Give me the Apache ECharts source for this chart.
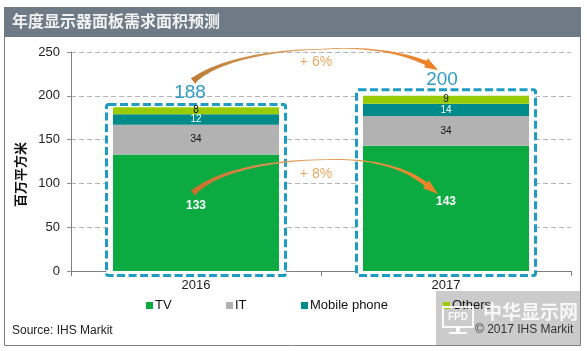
<!DOCTYPE html>
<html>
<head>
<meta charset="utf-8">
<style>html,body{margin:0;padding:0;background:#fff}#c{width:587px;height:351px}</style>
<script src="https://cdn.jsdelivr.net/npm/echarts@6/dist/echarts.min.js"></script>
</head>
<body>
<div id="c"></div>
<script>
const years = ['2016', '2017'];
const tv = [133, 143];
const it = [34, 34];
const mobile = [12, 14];
const others = [8, 9];
const totals = [188, 200];
const boxTops = [190, 207];
const totalLabelPos = [[-0.024, 203], [0.984, 218]];
const growthLabels = ['+ 6%', '+ 8%'];
const growthLabelPos = [[0.48, 238.6], [0.48, 110.7]];
// arrow centre lines: tail, controls, peak, controls, neck, tip as [category position, value]
const arrowUpper = [[-0.012, 217], [0.076, 238.6], [0.276, 252], [0.496, 253], [0.676, 257], [0.816, 250], [0.92, 237.5], [0.968, 229.5]];
const arrowLower = [[-0.012, 89], [0.076, 113], [0.276, 125.6], [0.496, 127], [0.676, 129], [0.816, 122], [0.92, 99], [0.968, 88]];
const arrows = [arrowUpper, arrowLower];
const yTitle = '百万平方米';
const chartTitle = '年度显示器面板需求面积预测';
const sourceText = 'Source: IHS Markit';
const copyrightText = '© 2017 IHS Markit';

const CN = '"Noto Sans CJK SC", sans-serif';
const LAT = '"Liberation Sans", Arial, sans-serif';

function cubic(a, b, c, d, t) {
  const u = 1 - t;
  return u*u*u*a + 3*u*u*t*b + 3*u*t*t*c + t*t*t*d;
}
function renderArrow(params, api) {
  const knots = arrows[api.value(0)];
  const x0 = api.coord([0, 0])[0], x1 = api.coord([1, 0])[0];
  const P = knots.map(k => [x0 + (x1 - x0) * k[0], api.coord([0, k[1]])[1]]);
  const center = [];
  const N = 24;
  for (let i = 0; i <= N; i++) {
    const t = i / N;
    center.push([cubic(P[0][0],P[1][0],P[2][0],P[3][0],t), cubic(P[0][1],P[1][1],P[2][1],P[3][1],t), 7 - 6.2 * Math.pow(t, 0.45)]);
  }
  for (let i = 1; i <= N; i++) {
    const t = i / N;
    center.push([cubic(P[3][0],P[4][0],P[5][0],P[6][0],t), cubic(P[3][1],P[4][1],P[5][1],P[6][1],t), 0.8 + 3.7 * t * t]);
  }
  const left = [], right = [];
  center.forEach((c, i) => {
    const a = center[Math.max(0, i - 1)], b = center[Math.min(center.length - 1, i + 1)];
    const dx = b[0] - a[0], dy = b[1] - a[1], l = Math.hypot(dx, dy) || 1;
    const nx = -dy / l, ny = dx / l;
    left.push([c[0] + nx * c[2] / 2, c[1] + ny * c[2] / 2]);
    right.push([c[0] - nx * c[2] / 2, c[1] - ny * c[2] / 2]);
  });
  const neck = center[center.length - 1], before = center[center.length - 3];
  const dx = neck[0] - before[0], dy = neck[1] - before[1], l = Math.hypot(dx, dy) || 1;
  const nx = -dy / l, ny = dx / l, hw = 5;
  const pts = left.concat([[neck[0] + nx * hw, neck[1] + ny * hw], P[7], [neck[0] - nx * hw, neck[1] - ny * hw]], right.reverse());
  const lower = api.value(0) === 1;
  return {
    type: 'polygon',
    shape: { points: pts },
    style: {
      fill: new echarts.graphic.LinearGradient(0, 0, 1, 0, [
        { offset: 0, color: lower ? '#c96f2b' : '#bd7d35' },
        { offset: 0.5, color: '#e2a568' },
        { offset: 1, color: '#ee7f22' }
      ])
    }
  };
}
function renderBox(params, api) {
  const i = api.value(0);
  const c = api.coord([i, 0]);
  const top = api.coord([i, boxTops[i]])[1];
  const half = 89.5;
  return {
    type: 'rect',
    shape: { x: c[0] - half, y: top, width: half * 2, height: c[1] + 4.5 - top, r: 2 },
    style: { fill: '#fff', stroke: '#1f9cc4', lineWidth: 3, lineDash: [8, 3.5] }
  };
}
function renderTotal(params, api) {
  const i = api.value(0);
  const x0 = api.coord([0, 0])[0], x1 = api.coord([1, 0])[0];
  return {
    type: 'text',
    style: {
      text: String(totals[i]),
      x: x0 + (x1 - x0) * totalLabelPos[i][0],
      y: api.coord([0, totalLabelPos[i][1]])[1],
      fill: '#2f9cc6', fontSize: 19, fontFamily: LAT, align: 'center', verticalAlign: 'middle'
    }
  };
}
function renderGrowth(params, api) {
  const i = api.value(0);
  const x0 = api.coord([0, 0])[0], x1 = api.coord([1, 0])[0];
  return {
    type: 'text',
    style: {
      text: growthLabels[i],
      x: x0 + (x1 - x0) * growthLabelPos[i][0],
      y: api.coord([0, growthLabelPos[i][1]])[1],
      fill: '#e9a766', fontSize: 14, fontFamily: LAT, align: 'center', verticalAlign: 'middle'
    }
  };
}
function barSeries(name, values, color, label) {
  return {
    name, type: 'bar', stack: 'a', data: values, barWidth: 166, z: 2,
    itemStyle: { color },
    label: Object.assign({ show: true, position: 'inside', fontFamily: LAT }, label)
  };
}
function legendAt(name, left, z) {
  return {
    data: [name], left, top: 299, padding: 0, itemWidth: 7, itemHeight: 7, icon: 'rect',
    selectedMode: false, itemGap: 0, z,
    textStyle: { fontFamily: LAT, fontSize: 13, color: '#111', padding: [0, 0, 0, -3] }
  };
}

const chart = echarts.init(document.getElementById('c'), null, { renderer: 'canvas' });
chart.setOption({
  animation: false,
  backgroundColor: '#fff',
  title: {
    text: chartTitle, left: 12, top: 13, padding: 0, z: 100,
    textStyle: { color: '#f2f2f2', fontSize: 16, fontWeight: 'bold', fontFamily: CN }
  },
  legend: [legendAt('TV', 146, 4), legendAt('IT', 226, 4), legendAt('Mobile phone', 301, 4), legendAt('Others', 443, 89)],
  grid: { left: 71, right: 16, top: 52, bottom: 80 },
  xAxis: {
    type: 'category', data: years,
    axisLine: { lineStyle: { color: '#808080' } },
    axisTick: { show: true, length: 5, alignWithLabel: false, lineStyle: { color: '#808080' } },
    axisLabel: { fontFamily: LAT, fontSize: 13, color: '#222', margin: 8 }
  },
  yAxis: {
    type: 'value', min: 0, max: 250, interval: 50,
    name: yTitle, nameLocation: 'middle', nameGap: 44, nameRotate: 90,
    nameTextStyle: { fontFamily: CN, fontSize: 13, fontWeight: 'bold', color: '#111', padding: [0, 26, 0, 0] },
    axisLine: { show: true, lineStyle: { color: '#808080' } },
    axisTick: { show: true, length: 4, lineStyle: { color: '#909090' } },
    axisLabel: { fontFamily: LAT, fontSize: 13, color: '#222', margin: 11 },
    splitLine: { lineStyle: { color: '#b4b4b4', type: [5, 3] } }
  },
  series: [
    { type: 'custom', name: 'box', data: [[0], [1]], renderItem: renderBox, z: 1, silent: true },
    barSeries('TV', tv, '#0bab41', { color: '#fff', fontSize: 12, fontWeight: 'bold', offset: [0, -7] }),
    barSeries('IT', it, '#b2b2b2', { color: '#111', fontSize: 10 }),
    barSeries('Mobile phone', mobile, '#008b8b', { color: '#fff', fontSize: 10 }),
    barSeries('Others', others, '#99cc00', { color: '#111', fontSize: 10 }),
    { type: 'custom', name: 'arrows', data: [[0], [1]], renderItem: renderArrow, z: 5, silent: true },
    { type: 'custom', name: 'totals', data: [[0], [1]], renderItem: renderTotal, z: 6, silent: true },
    { type: 'custom', name: 'growth', data: [[0], [1]], renderItem: renderGrowth, z: 6, silent: true }
  ],
  graphic: [
    { type: 'rect', z: 90, silent: true, shape: { x: 4.5, y: 7.5, width: 576, height: 338 }, style: { fill: 'none', stroke: '#808080', lineWidth: 1 } },
    { type: 'rect', z: 91, silent: true, shape: { x: 4, y: 7, width: 577, height: 30 }, style: { fill: '#6f7a87' } },
    { type: 'text', z: 91, silent: true, style: { text: sourceText, x: 12, y: 331, fill: '#222', fontSize: 12, fontFamily: LAT, verticalAlign: 'middle' } },
    { type: 'rect', z: 88, silent: true, shape: { x: 436, y: 291, width: 145, height: 54 }, style: { fill: 'rgba(178,178,178,0.68)' } },
    { type: 'rect', z: 93, silent: true, shape: { x: 443, y: 307, width: 30, height: 20 }, style: { fill: 'none', stroke: 'rgba(255,255,255,0.9)', lineWidth: 2 } },
    { type: 'rect', z: 93, silent: true, shape: { x: 456, y: 327, width: 4, height: 5 }, style: { fill: 'rgba(255,255,255,0.9)' } },
    { type: 'rect', z: 93, silent: true, shape: { x: 449, y: 332, width: 18, height: 2 }, style: { fill: 'rgba(255,255,255,0.9)' } },
    { type: 'text', z: 93, silent: true, style: { text: 'FPD', x: 458, y: 317, fill: 'rgba(255,255,255,0.9)', fontSize: 10, fontWeight: 'bold', fontFamily: LAT, align: 'center', verticalAlign: 'middle' } },
    { type: 'text', z: 93, silent: true, style: { text: '中华显示网', x: 483, y: 312, fill: 'rgba(255,255,255,0.85)', fontSize: 19, fontWeight: 'bold', fontFamily: CN, verticalAlign: 'middle' } },
    { type: 'text', z: 94, silent: true, style: { text: copyrightText, x: 475, y: 330, fill: '#333', fontSize: 12, fontFamily: LAT, verticalAlign: 'middle' } }
  ]
});
</script>
</body>
</html>
